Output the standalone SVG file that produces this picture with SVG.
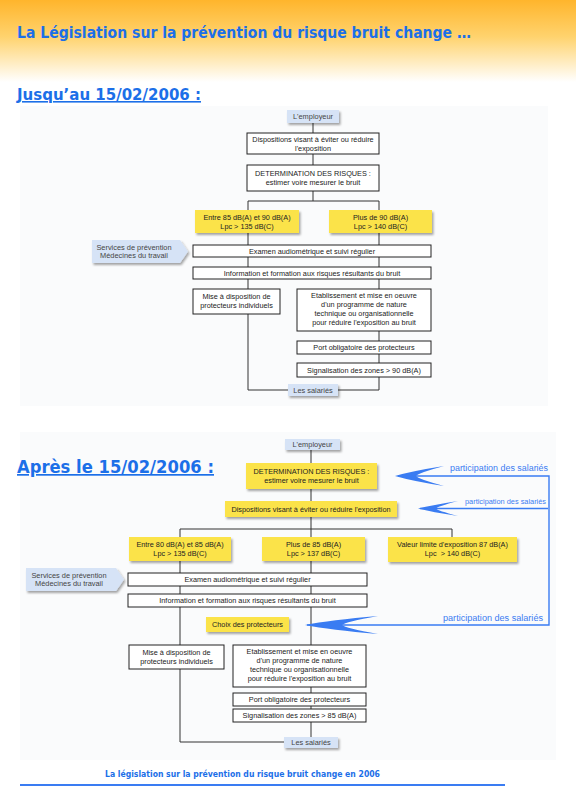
<svg xmlns="http://www.w3.org/2000/svg" width="576" height="792" viewBox="0 0 576 792">
<defs>
<linearGradient id="hdr" x1="0" y1="0" x2="0" y2="1">
<stop offset="0" stop-color="#ffb52c"/>
<stop offset="0.45" stop-color="#ffd36e"/>
<stop offset="1" stop-color="#ffffff"/>
</linearGradient>
<filter id="sh" x="-20%" y="-30%" width="140%" height="170%">
<feDropShadow dx="1.5" dy="2" stdDeviation="1.2" flood-color="#000" flood-opacity="0.35"/>
</filter>
</defs>
<style>
.box{fill:#fff;stroke:#222;stroke-width:1}
.yel{fill:#fbe34a;stroke:none;filter:url(#sh)}
.lb{fill:#d6e3f6;stroke:none;filter:url(#sh)}
.t{font-family:"Liberation Sans",Arial,sans-serif;font-size:7.3px;fill:#222;text-anchor:middle}
.ts{font-family:"Liberation Sans",Arial,sans-serif;font-size:7.4px;fill:#444;text-anchor:middle}
.ln{fill:none;stroke:#333;stroke-width:1}
.bl{fill:none;stroke:#3a7cf2;stroke-width:1.4}
.bf{fill:#3a7cf2;stroke:none}
.pt{font-family:"Liberation Sans",Arial,sans-serif;fill:#3a7cf2}
.h{font-family:"DejaVu Sans","Liberation Sans",sans-serif;font-weight:bold;fill:#1c6fe8}
</style>
<rect x="0" y="0" width="576" height="792" fill="#fff"/>
<rect x="0" y="0" width="576" height="82" fill="url(#hdr)"/>
<text class="h" x="17" y="38" font-size="16" textLength="454" lengthAdjust="spacingAndGlyphs">La Législation sur la prévention du risque bruit change …</text>
<text class="h" x="17" y="100" font-size="16" textLength="184" lengthAdjust="spacingAndGlyphs" text-decoration="underline">Jusqu’au 15/02/2006 :</text>
<rect x="20" y="106" width="528" height="300" fill="#fafbfc"/>
<rect x="20" y="432" width="536" height="328" fill="#fafbfc"/>
<text class="h" x="17" y="473" font-size="17" textLength="197" lengthAdjust="spacingAndGlyphs" text-decoration="underline">Après le 15/02/2006 :</text>

<g id="connectors">
<path class="ln" d="M313 123V133M313 154V165M313 191V201M248 201H379M248 201V210M379 201V210M248 233V245M379 233V245M248 257V267M379 257V267M248 279V289M379 279V289M248 314V390H288M379 331V341M379 354V363M379 377V390H338"/>
<path class="ln" d="M311 450V463M311 489V501M311 517V529M180 529H452M180 529V537M311 529V537M452 529V537M180 561V573M311 561V573M180 586V594M311 586V594M180 607V645M311 607V645M311 687V693M311 706V709M311 722V742H338M180 669V742H284"/>
</g>

<g id="top-employeur"><rect class="lb" x="287" y="110" width="52" height="13"/><text class="ts" x="313" y="119">L'employeur</text></g>
<g id="top-dispositions"><rect class="box" x="247" y="133" width="132" height="21"/><text class="t" x="313" y="142">Dispositions visant à éviter ou réduire</text><text class="t" x="313" y="150.5">l'exposition</text></g>
<g id="top-determination"><rect class="box" x="247" y="165" width="132" height="26"/><text class="t" x="313" y="175.5">DETERMINATION DES RISQUES :</text><text class="t" x="313" y="184.5">estimer voire mesurer le bruit</text></g>
<g id="top-entre"><rect class="yel" x="195" y="210" width="104" height="23"/><text class="t" x="247" y="219.5">Entre 85 dB(A) et 90 dB(A)</text><text class="t" x="247" y="228.5">Lpc &gt; 135 dB(C)</text></g>
<g id="top-plus"><rect class="yel" x="329" y="210" width="103" height="23"/><text class="t" x="380.5" y="219.5">Plus de 90 dB(A)</text><text class="t" x="380.5" y="228.5">Lpc &gt; 140 dB(C)</text></g>
<g id="top-services"><path class="lb" d="M92 240H180L188 251.5L180 263H92Z"/><text class="ts" x="134" y="249.5">Services de prévention</text><text class="ts" x="134" y="258">Médecines du travail</text></g>
<g id="top-examen"><rect class="box" x="193" y="245" width="238" height="12"/><text class="t" x="312" y="253.7">Examen audiométrique et suivi régulier</text></g>
<g id="top-information"><rect class="box" x="193" y="267" width="238" height="12"/><text class="t" x="312" y="275.7">Information et formation aux risques résultants du bruit</text></g>
<g id="top-mise"><rect class="box" x="193" y="289" width="87" height="25"/><text class="t" x="236.5" y="299">Mise à disposition de</text><text class="t" x="236.5" y="307.5">protecteurs individuels</text></g>
<g id="top-etablissement"><rect class="box" x="297" y="289" width="134" height="42"/><text class="t" x="364" y="297.5">Etablissement et mise en oeuvre</text><text class="t" x="364" y="306.5">d'un programme de nature</text><text class="t" x="364" y="315.5">technique ou organisationnelle</text><text class="t" x="364" y="324.5">pour réduire l'exposition au bruit</text></g>
<g id="top-port"><rect class="box" x="297" y="341" width="134" height="13"/><text class="t" x="364" y="350">Port obligatoire des protecteurs</text></g>
<g id="top-signalisation"><rect class="box" x="297" y="363" width="134" height="14"/><text class="t" x="364" y="372.5">Signalisation des zones &gt; 90 dB(A)</text></g>
<g id="top-salaries"><rect class="lb" x="288" y="384" width="50" height="12"/><text class="ts" x="313" y="392.5">Les salariés</text></g>

<g id="bot-employeur"><rect class="lb" x="285" y="439" width="55" height="11"/><text class="ts" x="312.5" y="447">L'employeur</text></g>
<g id="bot-determination"><rect class="yel" x="246" y="463" width="131" height="26"/><text class="t" x="311.5" y="473.5">DETERMINATION DES RISQUES :</text><text class="t" x="311.5" y="482.5">estimer voire mesurer le bruit</text></g>
<g id="bot-dispositions"><rect class="yel" x="225" y="501" width="172" height="16"/><text class="t" x="311" y="511.5">Dispositions visant à éviter ou réduire l'exposition</text></g>
<g id="bot-entre"><rect class="yel" x="129" y="537" width="102" height="24"/><text class="t" x="180" y="546.5">Entre 80 dB(A) et 85 dB(A)</text><text class="t" x="180" y="555.5">Lpc &gt; 135 dB(C)</text></g>
<g id="bot-plus"><rect class="yel" x="262" y="537" width="103" height="24"/><text class="t" x="313.5" y="546.5">Plus de 85 dB(A)</text><text class="t" x="313.5" y="555.5">Lpc &gt; 137 dB(C)</text></g>
<g id="bot-valeur"><rect class="yel" x="388" y="537" width="129" height="25"/><text class="t" x="452.5" y="546.5">Valeur limite d'exposition 87 dB(A)</text><text class="t" x="452.5" y="555.5" xml:space="preserve">Lpc  &gt; 140 dB(C)</text></g>
<g id="bot-services"><path class="lb" d="M26 568H116L124 579.5L116 591H26Z"/><text class="ts" x="69" y="577.5">Services de prévention</text><text class="ts" x="69" y="586">Médecines du travail</text></g>
<g id="bot-examen"><rect class="box" x="128" y="573" width="239" height="13"/><text class="t" x="247.5" y="582.2">Examen audiométrique et suivi régulier</text></g>
<g id="bot-information"><rect class="box" x="128" y="594" width="239" height="13"/><text class="t" x="247.5" y="603.2">Information et formation aux risques résultants du bruit</text></g>
<g id="bot-choix"><rect class="yel" x="206" y="617" width="83" height="15"/><text class="t" x="247.5" y="627">Choix des protecteurs</text></g>
<g id="bot-mise"><rect class="box" x="129" y="645" width="95" height="24"/><text class="t" x="176.5" y="655">Mise à disposition de</text><text class="t" x="176.5" y="663.5">protecteurs individuels</text></g>
<g id="bot-etablissement"><rect class="box" x="233" y="645" width="133" height="42"/><text class="t" x="299.5" y="653.5">Etablissement et mise en oeuvre</text><text class="t" x="299.5" y="662.5">d'un programme de nature</text><text class="t" x="299.5" y="671.5">technique ou organisationnelle</text><text class="t" x="299.5" y="680.5">pour réduire l'exposition au bruit</text></g>
<g id="bot-port"><rect class="box" x="233" y="693" width="133" height="13"/><text class="t" x="299.5" y="702.2">Port obligatoire des protecteurs</text></g>
<g id="bot-signalisation"><rect class="box" x="233" y="709" width="133" height="13"/><text class="t" x="299.5" y="718.2">Signalisation des zones &gt; 85 dB(A)</text></g>
<g id="bot-salaries"><rect class="lb" x="284" y="737" width="54" height="11"/><text class="ts" x="311" y="745">Les salariés</text></g>

<g id="participation">
<path class="bl" d="M398 476H549V625H307M420 508.5H548"/>
<path class="bf" d="M444 466Q412 471 395 476Q412 481 444 486Q418 479 416 476Q418 473 444 466Z"/>
<path class="bf" d="M458 501Q432 505 418 508.5Q432 512 458 516Q437 510.5 436 508.5Q437 506.5 458 501Z"/>
<path class="bf" d="M378 616Q330 620 305 625Q330 630 378 634Q345 628 342 625Q345 622 378 616Z"/>
<text class="pt" x="450" y="471" font-size="8.4" textLength="98" lengthAdjust="spacingAndGlyphs">participation des salariés</text>
<text class="pt" x="465" y="504" font-size="7.4" textLength="81" lengthAdjust="spacingAndGlyphs">participation des salariés</text>
<text class="pt" x="443" y="621" font-size="8.4" textLength="100" lengthAdjust="spacingAndGlyphs">participation des salariés</text>
</g>

<text class="h" x="242.5" y="777" font-size="9" text-anchor="middle" textLength="275" lengthAdjust="spacingAndGlyphs">La législation sur la prévention du risque bruit change en 2006</text>
<rect x="20" y="784" width="485" height="2" fill="#3a7cf2"/>
</svg>
